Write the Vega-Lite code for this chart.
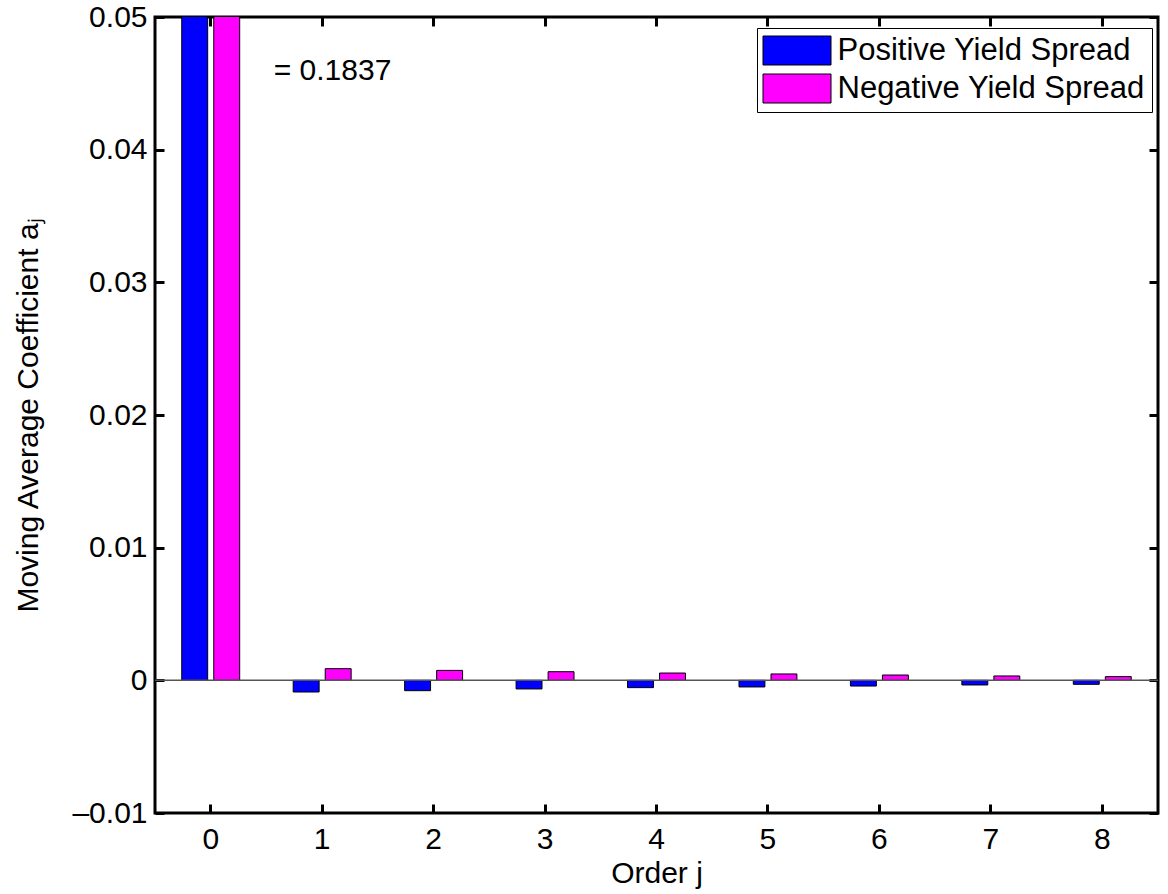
{
  "$schema": "https://vega.github.io/schema/vega-lite/v6.json",
  "width": 1003,
  "height": 796,
  "autosize": "none",
  "padding": {"left": 155, "top": 17, "right": 10, "bottom": 81},
  "background": "white",
  "config": {
    "font": "Liberation Sans",
    "view": {"stroke": "black", "strokeWidth": 3},
    "axis": {
      "grid": false,
      "domain": false,
      "ticks": true,
      "tickColor": "black",
      "tickWidth": 3,
      "tickSize": -9,
      "labelFontSize": 30,
      "labelColor": "black",
      "titleFontSize": 30,
      "titleFontWeight": "normal",
      "titleColor": "black"
    }
  },
  "data": {
    "values": [
      {"order": "0", "series": "Positive Yield Spread", "value": 0.1837},
      {"order": "0", "series": "Negative Yield Spread", "value": 0.1837},
      {"order": "1", "series": "Positive Yield Spread", "value": -0.00088},
      {"order": "1", "series": "Negative Yield Spread", "value": 0.00088},
      {"order": "2", "series": "Positive Yield Spread", "value": -0.00078},
      {"order": "2", "series": "Negative Yield Spread", "value": 0.00075},
      {"order": "3", "series": "Positive Yield Spread", "value": -0.00065},
      {"order": "3", "series": "Negative Yield Spread", "value": 0.00065},
      {"order": "4", "series": "Positive Yield Spread", "value": -0.00055},
      {"order": "4", "series": "Negative Yield Spread", "value": 0.00055},
      {"order": "5", "series": "Positive Yield Spread", "value": -0.0005},
      {"order": "5", "series": "Negative Yield Spread", "value": 0.00048},
      {"order": "6", "series": "Positive Yield Spread", "value": -0.00043},
      {"order": "6", "series": "Negative Yield Spread", "value": 0.0004},
      {"order": "7", "series": "Positive Yield Spread", "value": -0.00035},
      {"order": "7", "series": "Negative Yield Spread", "value": 0.00033},
      {"order": "8", "series": "Positive Yield Spread", "value": -0.0003},
      {"order": "8", "series": "Negative Yield Spread", "value": 0.00028}
    ]
  },
  "layer": [
    {
      "mark": {"type": "bar", "stroke": "black", "strokeWidth": 1, "clip": true},
      "encoding": {
        "x": {
          "field": "order", "type": "ordinal",
          "scale": {"paddingInner": 0.48, "paddingOuter": 0.24},
          "axis": {"title": "Order j", "labelAngle": 0, "labelPadding": 20, "titlePadding": 4}
        },
        "xOffset": {
          "field": "series", "type": "nominal",
          "sort": ["Positive Yield Spread", "Negative Yield Spread"],
          "scale": {"paddingInner": 0.19, "paddingOuter": 0}
        },
        "y": {
          "field": "value", "type": "quantitative",
          "scale": {"domain": [-0.01, 0.05], "nice": false, "zero": false},
          "axis": {
            "title": "Moving Average Coefficient aⱼ",
            "values": [-0.01, 0, 0.01, 0.02, 0.03, 0.04, 0.05],
            "labelExpr": "datum.value < 0 ? '–' + format(-datum.value, '.2f') : (datum.value == 0 ? '0' : format(datum.value, '.2f'))",
            "labelPadding": 17,
            "titlePadding": 28
          }
        },
        "color": {
          "field": "series", "type": "nominal",
          "scale": {"domain": ["Positive Yield Spread", "Negative Yield Spread"], "range": ["#0000ff", "#ff00ff"]},
          "legend": {
            "title": null,
            "orient": "none",
            "legendX": 602,
            "legendY": 11,
            "fillColor": "white",
            "strokeColor": "black",
            "padding": 7,
            "labelFontSize": 31,
            "labelColor": "black",
            "labelLimit": 0,
            "symbolType": "M-2.345,-1H2.345V1H-2.345Z",
            "symbolSize": 841,
            "symbolStrokeColor": "black",
            "symbolStrokeWidth": 1,
            "symbolOpacity": 1,
            "symbolOffset": 17.5,
            "labelOffset": 25,
            "rowPadding": 5
          }
        }
      }
    },
    {
      "data": {"values": [{"z": 0}]},
      "mark": {"type": "rule", "color": "#555555", "strokeWidth": 1.5},
      "encoding": {"y": {"field": "z", "type": "quantitative", "axis": null}}
    },
    {
      "data": {"values": [{"order": "0", "label": "= 0.1837", "v": 0.0459}]},
      "mark": {"type": "text", "align": "left", "baseline": "middle", "fontSize": 30, "dx": 63, "color": "black"},
      "encoding": {
        "x": {"field": "order", "type": "ordinal", "axis": null},
        "y": {"field": "v", "type": "quantitative", "axis": null},
        "text": {"field": "label"}
      }
    },
    {
      "mark": {"type": "point", "opacity": 0, "clip": true},
      "encoding": {
        "x": {"field": "order", "type": "ordinal", "axis": {"orient": "top", "labels": false, "title": null}},
        "y": {"field": "value", "type": "quantitative", "axis": {"orient": "right", "labels": false, "title": null, "values": [-0.01, 0, 0.01, 0.02, 0.03, 0.04, 0.05]}}
      }
    }
  ],
  "resolve": {"axis": {"x": "independent", "y": "independent"}}
}
